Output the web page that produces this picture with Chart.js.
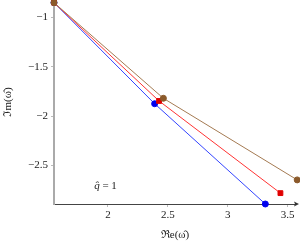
<!DOCTYPE html>
<html>
<head>
<meta charset="utf-8">
<script src="https://cdn.jsdelivr.net/npm/chart.js@4"></script>
<style>
  html, body { margin: 0; padding: 0; background: #fff; }
  #wrap { width: 300px; height: 244px; }
</style>
</head>
<body>
<div id="wrap"><canvas id="myChart" width="300" height="244"></canvas></div>
<script>
// values
const blueX = [1.55, 2.39, 3.314];
const blueY = [-0.852, -1.875, -2.89];
const redX = [1.55, 2.427, 3.44];
const redY = [-0.852, -1.847, -2.78];
const brownX = [1.55, 2.463, 3.58];
const brownY = [-0.852, -1.82, -2.646];

const xTicks = [2, 2.5, 3, 3.5];
const yTicks = [-1, -1.5, -2, -2.5];

const FONT = "'Liberation Serif', 'DejaVu Serif', serif";

function pts(xs, ys) {
    return xs.map((x, i) => ({ x: x, y: ys[i] }));
}

function fmt(v) {
    return String(v).replace('-', '\u2212');
}

// arrow head at the right end of the x axis, and the q label
const extras = {
    id: 'extras',
    afterDraw(chart) {
        const ctx = chart.ctx;
        const a = chart.chartArea;
        ctx.save();
        ctx.fillStyle = '#333';
        ctx.beginPath();
        ctx.moveTo(a.right + 3, a.bottom);
        ctx.lineTo(a.right - 2, a.bottom - 2.5);
        ctx.lineTo(a.right - 1, a.bottom);
        ctx.lineTo(a.right - 2, a.bottom + 2.5);
        ctx.closePath();
        ctx.fill();

        const xs = chart.scales.x, ys = chart.scales.y;
        const px = xs.getPixelForValue(1.98), py = ys.getPixelForValue(-2.71);
        ctx.fillStyle = '#222';
        ctx.textBaseline = 'middle';
        ctx.textAlign = 'left';
        ctx.font = 'italic 11px ' + FONT;
        const w1 = ctx.measureText('q\u0302').width;
        ctx.font = '11px ' + FONT;
        const w2 = ctx.measureText(' = 1').width;
        const x0 = px - (w1 + w2) / 2;
        ctx.font = 'italic 11px ' + FONT;
        ctx.fillText('q\u0302', x0, py);
        ctx.font = '11px ' + FONT;
        ctx.fillText(' = 1', x0 + w1, py);
        ctx.restore();
    }
};

const ctx = document.getElementById('myChart').getContext('2d');
let myChart = new Chart(ctx, {
    type: 'scatter',
    data: {
        datasets: [{
            data: pts(blueX, blueY),
            order: 3,
            showLine: true,
            borderColor: '#3344ff',
            backgroundColor: '#0000ee',
            pointBorderColor: '#0000ee',
            borderWidth: 1,
            pointRadius: 3,
            pointStyle: 'circle'
        }, {
            data: pts(redX, redY),
            order: 2,
            showLine: true,
            borderColor: '#ff3333',
            backgroundColor: '#e00000',
            pointBorderColor: '#e00000',
            borderWidth: 1,
            pointRadius: 3.4,
            pointStyle: 'rect'
        }, {
            data: pts(brownX, brownY),
            order: 1,
            showLine: true,
            borderColor: '#a47a52',
            backgroundColor: '#8b5a2b',
            pointBorderColor: '#8b5a2b',
            borderWidth: 1,
            pointRadius: 3,
            pointStyle: 'circle'
        }]
    },
    options: {
        responsive: false,
        animation: false,
        clip: false,
        layout: { autoPadding: false, padding: { left: 0, right: 4, top: 0, bottom: 0 } },
        plugins: {
            legend: { display: false },
            tooltip: { enabled: false }
        },
        scales: {
            x: {
                type: 'linear',
                min: 1.55,
                max: 3.57,
                afterBuildTicks: s => { s.ticks = xTicks.map(v => ({ value: v })); },
                afterFit: s => {
                    s.height = 40;
                    s.paddingLeft = 0;
                    s.paddingRight = 0;
                },
                border: { display: true, color: '#444', width: 1 },
                grid: { drawOnChartArea: false, drawTicks: true, tickLength: 3, color: '#bbb' },
                ticks: {
                    color: '#222',
                    font: { family: FONT, size: 11 },
                    padding: 2,
                    maxRotation: 0,
                    autoSkip: false,
                    callback: v => fmt(v)
                },
                title: {
                    display: true,
                    text: '\u211Ce(\u03C9\u0302)',
                    color: '#222',
                    font: { family: FONT, size: 11 },
                    padding: { top: 2, bottom: 2 }
                }
            },
            y: {
                type: 'linear',
                min: -2.89,
                max: -0.825,
                afterBuildTicks: s => { s.ticks = yTicks.map(v => ({ value: v })); },
                afterFit: s => {
                    s.width = 54;
                    s.paddingTop = 0;
                    s.paddingBottom = 0;
                },
                border: { display: true, color: '#aaa', width: 2 },
                grid: { drawOnChartArea: false, drawTicks: true, tickLength: 3, color: '#bbb' },
                ticks: {
                    color: '#222',
                    font: { family: FONT, size: 11 },
                    padding: 3,
                    autoSkip: false,
                    callback: v => fmt(v)
                },
                title: {
                    display: true,
                    text: '\u2111m(\u03C9\u0302)',
                    color: '#222',
                    font: { family: FONT, size: 11 },
                    padding: { top: 2, bottom: 2 }
                }
            }
        }
    },
    plugins: [extras]
});
</script>
</body>
</html>
